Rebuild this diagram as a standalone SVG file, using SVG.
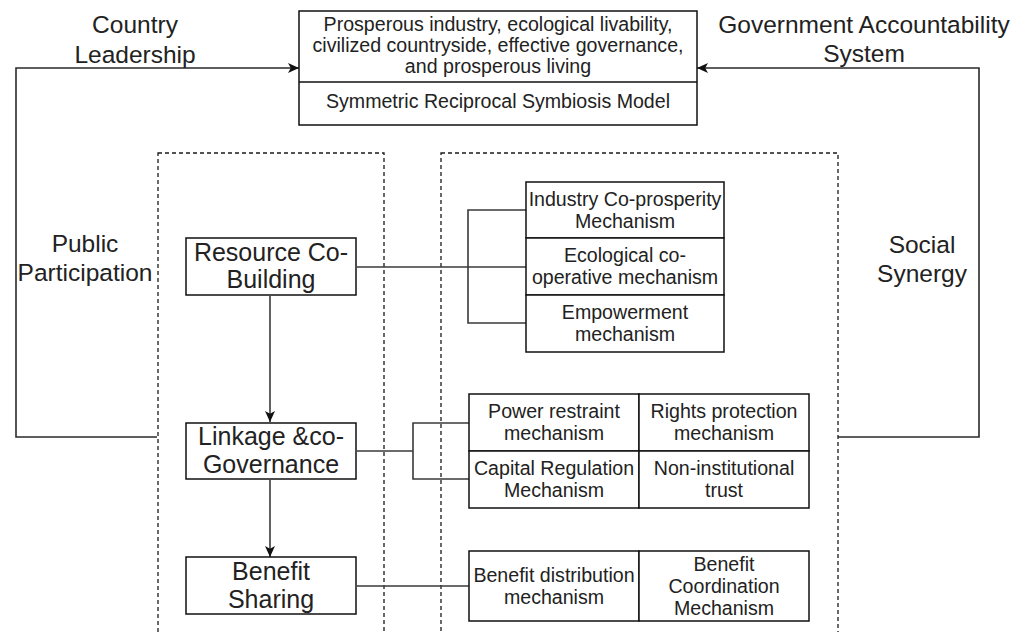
<svg xmlns="http://www.w3.org/2000/svg" width="1032" height="632" viewBox="0 0 1032 632">
  <style>
    .box { fill: #ffffff; stroke: #111111; stroke-width: 1.5; }
    .div { fill: none; stroke: #111111; stroke-width: 1.5; }
    .zone { fill: none; stroke: #1a1a1a; stroke-width: 1.3; stroke-dasharray: 4 3; }
    .link { fill: none; stroke: #3a3a3a; stroke-width: 1.6; }
    .loop { fill: none; stroke: #2a2a2a; stroke-width: 1.6; }
    text { font-family: "Liberation Sans", Arial, sans-serif; fill: #222222; text-anchor: middle; }
    .big { font-size: 24.5px; }
    .node { font-size: 25px; }
    .small { font-size: 19.6px; }
  </style>
  <defs>
    <marker id="arrow" viewBox="0 0 11 10" refX="11" refY="5" markerWidth="11" markerHeight="10" markerUnits="userSpaceOnUse" orient="auto">
      <path d="M0,0 L11,5 L0,10 L2.8,5 Z" fill="#111111"/>
    </marker>
  </defs>

  <rect width="1032" height="632" fill="#ffffff"/>

  <!-- dashed grouping zones -->
  <g id="zones">
    <rect class="zone" x="158" y="153" width="226" height="500"/>
    <rect class="zone" x="441" y="153" width="397" height="500"/>
  </g>

  <!-- connectors -->
  <g id="connectors">
    <path class="loop" d="M157,437 H16 V68 H299" marker-end="url(#arrow)"/>
    <path class="loop" d="M838,437 H979 V68 H697" marker-end="url(#arrow)"/>
    <path class="link" d="M270,296 V422" marker-end="url(#arrow)"/>
    <path class="link" d="M270,480 V557" marker-end="url(#arrow)"/>
    <path class="link" d="M357,267 H526"/>
    <path class="link" d="M526,210 H468 V323 H526"/>
    <path class="link" d="M357,451 H413"/>
    <path class="link" d="M469,423 H413 V479 H469"/>
    <path class="link" d="M357,586 H469"/>
  </g>

  <!-- outer labels -->
  <g id="label-country">
    <text class="big" x="135" y="33">Country</text>
    <text class="big" x="135" y="63">Leadership</text>
  </g>
  <g id="label-government">
    <text class="big" x="864" y="33">Government Accountability</text>
    <text class="big" x="864" y="62">System</text>
  </g>
  <g id="label-public">
    <text class="big" x="85" y="252">Public</text>
    <text class="big" x="85" y="281">Participation</text>
  </g>
  <g id="label-social">
    <text class="big" x="922" y="253">Social</text>
    <text class="big" x="922" y="282">Synergy</text>
  </g>

  <!-- goal / model box -->
  <g id="goal">
    <rect class="box" x="299" y="11" width="398" height="114"/>
    <line class="div" x1="299" y1="82" x2="697" y2="82"/>
    <text class="small" x="498" y="31">Prosperous industry, ecological livability,</text>
    <text class="small" x="498" y="52">civilized countryside, effective governance,</text>
    <text class="small" x="498" y="73">and prosperous living</text>
    <text class="small" x="498" y="108">Symmetric Reciprocal Symbiosis Model</text>
  </g>

  <!-- stage nodes -->
  <g id="resource-co-building">
    <rect class="box" x="186" y="238" width="170" height="57"/>
    <text class="node" x="271" y="261">Resource Co-</text>
    <text class="node" x="271" y="288">Building</text>
  </g>
  <g id="linkage-co-governance">
    <rect class="box" x="186" y="423" width="170" height="56"/>
    <text class="node" x="271" y="445">Linkage &amp;co-</text>
    <text class="node" x="271" y="473">Governance</text>
  </g>
  <g id="benefit-sharing">
    <rect class="box" x="186" y="557" width="170" height="57"/>
    <text class="node" x="271" y="580">Benefit</text>
    <text class="node" x="271" y="608">Sharing</text>
  </g>

  <!-- co-building mechanisms -->
  <g id="industry-co-prosperity">
    <rect class="box" x="526" y="182" width="198" height="56"/>
    <text class="small" x="625" y="206">Industry Co-prosperity</text>
    <text class="small" x="625" y="228">Mechanism</text>
  </g>
  <g id="ecological-co-operative">
    <rect class="box" x="526" y="238" width="198" height="57"/>
    <text class="small" x="625" y="262">Ecological co-</text>
    <text class="small" x="625" y="284">operative mechanism</text>
  </g>
  <g id="empowerment">
    <rect class="box" x="526" y="295" width="198" height="57"/>
    <text class="small" x="625" y="319">Empowerment</text>
    <text class="small" x="625" y="341">mechanism</text>
  </g>

  <!-- co-governance mechanisms -->
  <g id="power-restraint">
    <rect class="box" x="469" y="394" width="170" height="57"/>
    <text class="small" x="554" y="418">Power restraint</text>
    <text class="small" x="554" y="440">mechanism</text>
  </g>
  <g id="rights-protection">
    <rect class="box" x="639" y="394" width="170" height="57"/>
    <text class="small" x="724" y="418">Rights protection</text>
    <text class="small" x="724" y="440">mechanism</text>
  </g>
  <g id="capital-regulation">
    <rect class="box" x="469" y="451" width="170" height="57"/>
    <text class="small" x="554" y="475">Capital Regulation</text>
    <text class="small" x="554" y="497">Mechanism</text>
  </g>
  <g id="non-institutional-trust">
    <rect class="box" x="639" y="451" width="170" height="57"/>
    <text class="small" x="724" y="475">Non-institutional</text>
    <text class="small" x="724" y="497">trust</text>
  </g>

  <!-- benefit mechanisms -->
  <g id="benefit-distribution">
    <rect class="box" x="469" y="551" width="170" height="70"/>
    <text class="small" x="554" y="582">Benefit distribution</text>
    <text class="small" x="554" y="604">mechanism</text>
  </g>
  <g id="benefit-coordination">
    <rect class="box" x="639" y="551" width="170" height="70"/>
    <text class="small" x="724" y="571">Benefit</text>
    <text class="small" x="724" y="593">Coordination</text>
    <text class="small" x="724" y="615">Mechanism</text>
  </g>
</svg>
